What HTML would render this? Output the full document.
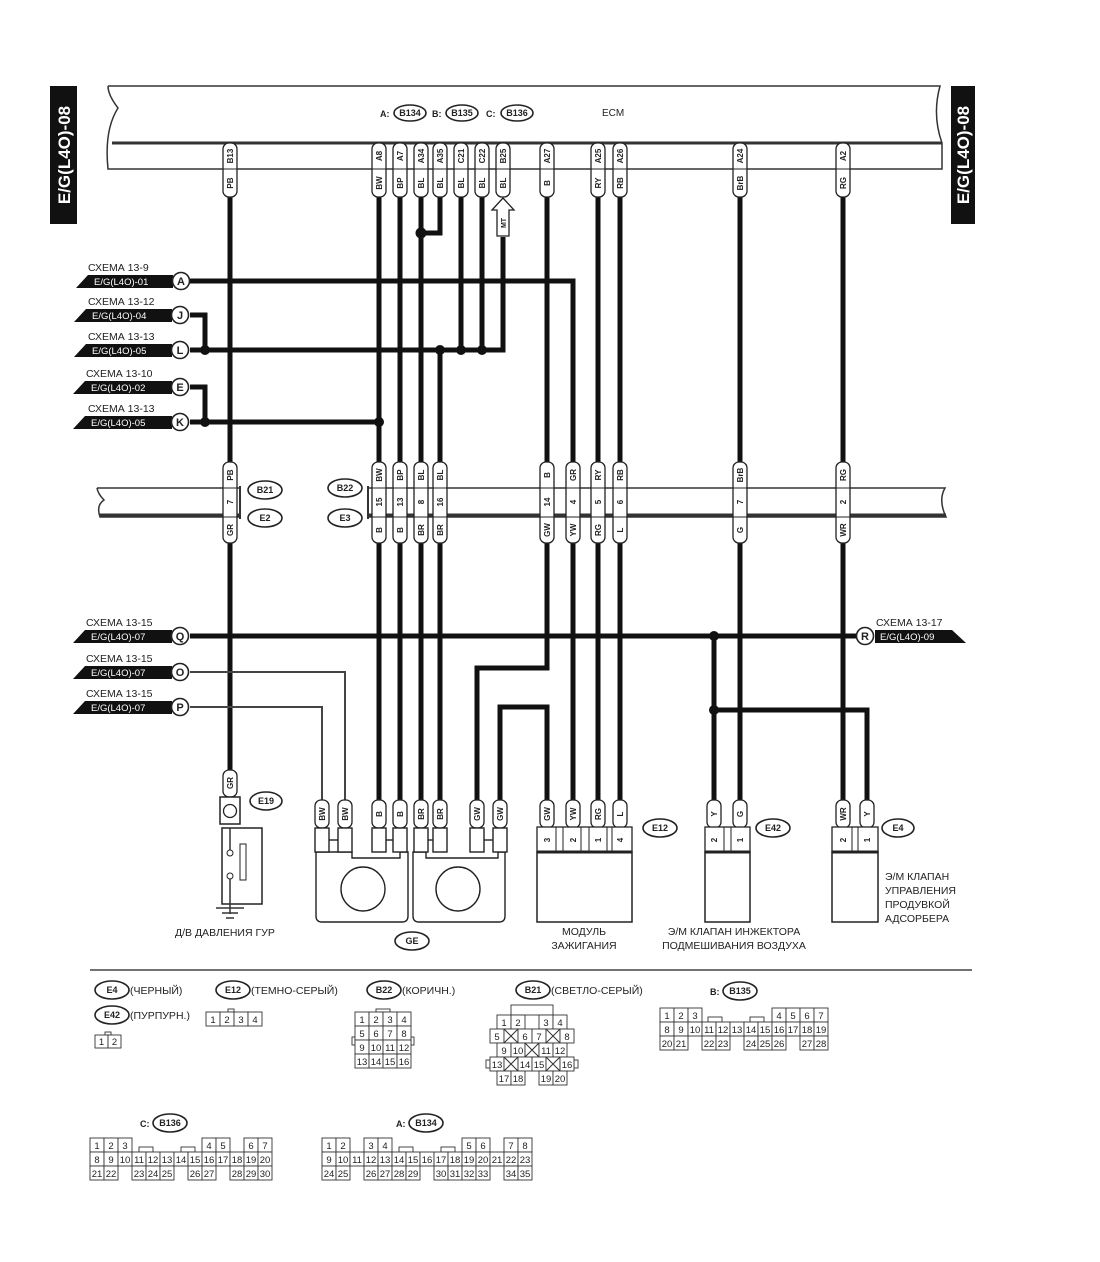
<!DOCTYPE html>
<html><head><meta charset="utf-8"><style>
html,body{margin:0;padding:0;background:#fff}
svg{display:block}
text{font-family:"Liberation Sans","Noto Sans CJK SC",sans-serif;fill:#222}
.w{stroke:#111;stroke-width:5;fill:none}
.t{stroke:#444;stroke-width:2;fill:none}
.o{stroke:#333;stroke-width:1.5;fill:none}
.c rect{fill:#fff;stroke:#333;stroke-width:0.9}
.c text{font-size:9.5px;text-anchor:middle}
.p{fill:#fff;stroke:#222;stroke-width:1.3}
.pt{font-size:8px;font-weight:bold;text-anchor:middle}
.lbl{font-size:10.5px}
.tag{fill:#111}
.tagt{fill:#fff;font-size:9.5px}
.el{fill:#fff;stroke:#222;stroke-width:1.6}
.elt{font-size:9px;font-weight:bold;text-anchor:middle}
</style></head><body>
<svg width="1100" height="1262" viewBox="0 0 1100 1262" xmlns="http://www.w3.org/2000/svg">
<rect width="1100" height="1262" fill="#fff"/>

<!-- side tags -->
<rect x="50" y="86" width="27" height="138" fill="#111"/>
<text transform="translate(70,155) rotate(-90)" style="fill:#fff;font-size:17px;font-weight:bold;text-anchor:middle">E/G(L4O)-08</text>
<rect x="951" y="86" width="24" height="138" fill="#111"/>
<text transform="translate(969,155) rotate(-90)" style="fill:#fff;font-size:17px;font-weight:bold;text-anchor:middle">E/G(L4O)-08</text>

<!-- ECM box -->
<path d="M108,86 L940,86 Q932,115 942,143 L942,169 L108,169 Q104,130 118,108 Q108,95 108,86" class="o" fill="#fff"/>
<line x1="112" y1="143" x2="942" y2="143" stroke="#333" stroke-width="3"/>
<text x="380" y="117" style="font-size:9px;font-weight:bold">A:</text>
<ellipse cx="410" cy="113" rx="16" ry="8" class="el"/><text x="410" y="116" class="elt">B134</text>
<text x="432" y="117" style="font-size:9px;font-weight:bold">B:</text>
<ellipse cx="462" cy="113" rx="16" ry="8" class="el"/><text x="462" y="116" class="elt">B135</text>
<text x="486" y="117" style="font-size:9px;font-weight:bold">C:</text>
<ellipse cx="517" cy="113" rx="16" ry="8" class="el"/><text x="517" y="116" class="elt">B136</text>
<text x="602" y="116" style="font-size:10px">ECM</text>

<!-- wires (thick) -->
<g class="w">
<path d="M230,197V462M230,543V770"/>
<path d="M379,197V462M379,543V800"/>
<path d="M400,197V462M400,543V800"/>
<path d="M421,197V462M421,543V800"/>
<path d="M440,197V233H421M440,350V462M440,543V800"/>
<path d="M461,197V350M482,197V350M503,237V350H482"/>
<path d="M547,197V462M547,543V668H477V800M500,800V707H547V800"/>
<path d="M190,281H573V462M573,543V800"/>
<path d="M598,197V462M598,543V800M620,197V462M620,543V800"/>
<path d="M740,197V462M740,543V800"/>
<path d="M843,197V462M843,543V800"/>
<path d="M190,315H205V350M190,350H503"/>
<path d="M190,387H205V422M190,422H379"/>
<path d="M190,636H856"/>
<path d="M714,636V800M714,710H867V800"/>
</g>
<g class="t"><path d="M190,672H345V800M190,707H322V800"/></g>
<g fill="#111">
<circle cx="205" cy="350" r="5"/><circle cx="440" cy="350" r="5"/><circle cx="461" cy="350" r="5"/><circle cx="482" cy="350" r="5"/>
<circle cx="421" cy="233" r="5.5"/><circle cx="205" cy="422" r="5"/><circle cx="379" cy="422" r="5"/>
<circle cx="714" cy="636" r="5"/><circle cx="714" cy="710" r="5"/>
</g>
<!-- MT arrow -->
<path d="M503,198 L514,210 L509,210 L509,236 L497,236 L497,210 L492,210 Z" fill="#fff" stroke="#222" stroke-width="1.3"/>
<text transform="translate(506,223) rotate(-90)" style="font-size:7px;font-weight:bold;text-anchor:middle">MT</text>

<!-- ECM pins -->
<g>
<g transform="translate(230,143)"><rect x="-7" y="0" width="14" height="54" rx="6" class="p"/><line x1="-7" y1="26" x2="7" y2="26" stroke="#222"/><text transform="rotate(-90)" x="-13" y="3" class="pt">B13</text><text transform="rotate(-90)" x="-40" y="3" class="pt">PB</text></g>
<g transform="translate(379,143)"><rect x="-7" y="0" width="14" height="54" rx="6" class="p"/><line x1="-7" y1="26" x2="7" y2="26" stroke="#222"/><text transform="rotate(-90)" x="-13" y="3" class="pt">A8</text><text transform="rotate(-90)" x="-40" y="3" class="pt">BW</text></g>
<g transform="translate(400,143)"><rect x="-7" y="0" width="14" height="54" rx="6" class="p"/><line x1="-7" y1="26" x2="7" y2="26" stroke="#222"/><text transform="rotate(-90)" x="-13" y="3" class="pt">A7</text><text transform="rotate(-90)" x="-40" y="3" class="pt">BP</text></g>
<g transform="translate(421,143)"><rect x="-7" y="0" width="14" height="54" rx="6" class="p"/><line x1="-7" y1="26" x2="7" y2="26" stroke="#222"/><text transform="rotate(-90)" x="-13" y="3" class="pt">A34</text><text transform="rotate(-90)" x="-40" y="3" class="pt">BL</text></g>
<g transform="translate(440,143)"><rect x="-7" y="0" width="14" height="54" rx="6" class="p"/><line x1="-7" y1="26" x2="7" y2="26" stroke="#222"/><text transform="rotate(-90)" x="-13" y="3" class="pt">A35</text><text transform="rotate(-90)" x="-40" y="3" class="pt">BL</text></g>
<g transform="translate(461,143)"><rect x="-7" y="0" width="14" height="54" rx="6" class="p"/><line x1="-7" y1="26" x2="7" y2="26" stroke="#222"/><text transform="rotate(-90)" x="-13" y="3" class="pt">C21</text><text transform="rotate(-90)" x="-40" y="3" class="pt">BL</text></g>
<g transform="translate(482,143)"><rect x="-7" y="0" width="14" height="54" rx="6" class="p"/><line x1="-7" y1="26" x2="7" y2="26" stroke="#222"/><text transform="rotate(-90)" x="-13" y="3" class="pt">C22</text><text transform="rotate(-90)" x="-40" y="3" class="pt">BL</text></g>
<g transform="translate(503,143)"><rect x="-7" y="0" width="14" height="54" rx="6" class="p"/><line x1="-7" y1="26" x2="7" y2="26" stroke="#222"/><text transform="rotate(-90)" x="-13" y="3" class="pt">B25</text><text transform="rotate(-90)" x="-40" y="3" class="pt">BL</text></g>
<g transform="translate(547,143)"><rect x="-7" y="0" width="14" height="54" rx="6" class="p"/><line x1="-7" y1="26" x2="7" y2="26" stroke="#222"/><text transform="rotate(-90)" x="-13" y="3" class="pt">A27</text><text transform="rotate(-90)" x="-40" y="3" class="pt">B</text></g>
<g transform="translate(598,143)"><rect x="-7" y="0" width="14" height="54" rx="6" class="p"/><line x1="-7" y1="26" x2="7" y2="26" stroke="#222"/><text transform="rotate(-90)" x="-13" y="3" class="pt">A25</text><text transform="rotate(-90)" x="-40" y="3" class="pt">RY</text></g>
<g transform="translate(620,143)"><rect x="-7" y="0" width="14" height="54" rx="6" class="p"/><line x1="-7" y1="26" x2="7" y2="26" stroke="#222"/><text transform="rotate(-90)" x="-13" y="3" class="pt">A26</text><text transform="rotate(-90)" x="-40" y="3" class="pt">RB</text></g>
<g transform="translate(740,143)"><rect x="-7" y="0" width="14" height="54" rx="6" class="p"/><line x1="-7" y1="26" x2="7" y2="26" stroke="#222"/><text transform="rotate(-90)" x="-13" y="3" class="pt">A24</text><text transform="rotate(-90)" x="-40" y="3" class="pt">BrB</text></g>
<g transform="translate(843,143)"><rect x="-7" y="0" width="14" height="54" rx="6" class="p"/><line x1="-7" y1="26" x2="7" y2="26" stroke="#222"/><text transform="rotate(-90)" x="-13" y="3" class="pt">A2</text><text transform="rotate(-90)" x="-40" y="3" class="pt">RG</text></g>
</g>

<!-- left tags -->
<g>
<text x="88" y="271" class="lbl">СХЕМА 13-9</text>
<polygon points="76,288 88,275 173,275 173,288" class="tag"/><text x="94" y="285" class="tagt">E/G(L4O)-01</text>
<circle cx="181" cy="281" r="8.5" class="el"/><text x="181" y="285" style="font-size:11px;font-weight:bold;text-anchor:middle">A</text>

<text x="88" y="305" class="lbl">СХЕМА 13-12</text>
<polygon points="74,322 86,309 172,309 172,322" class="tag"/><text x="92" y="319" class="tagt">E/G(L4O)-04</text>
<circle cx="180" cy="315" r="8.5" class="el"/><text x="180" y="319" style="font-size:11px;font-weight:bold;text-anchor:middle">J</text>

<text x="88" y="340" class="lbl">СХЕМА 13-13</text>
<polygon points="74,357 86,344 172,344 172,357" class="tag"/><text x="92" y="354" class="tagt">E/G(L4O)-05</text>
<circle cx="180" cy="350" r="8.5" class="el"/><text x="180" y="354" style="font-size:11px;font-weight:bold;text-anchor:middle">L</text>

<text x="86" y="377" class="lbl">СХЕМА 13-10</text>
<polygon points="73,394 85,381 172,381 172,394" class="tag"/><text x="91" y="391" class="tagt">E/G(L4O)-02</text>
<circle cx="180" cy="387" r="8.5" class="el"/><text x="180" y="391" style="font-size:11px;font-weight:bold;text-anchor:middle">E</text>

<text x="88" y="412" class="lbl">СХЕМА 13-13</text>
<polygon points="73,429 85,416 172,416 172,429" class="tag"/><text x="91" y="426" class="tagt">E/G(L4O)-05</text>
<circle cx="180" cy="422" r="8.5" class="el"/><text x="180" y="426" style="font-size:11px;font-weight:bold;text-anchor:middle">K</text>

<text x="86" y="626" class="lbl">СХЕМА 13-15</text>
<polygon points="73,643 85,630 172,630 172,643" class="tag"/><text x="91" y="640" class="tagt">E/G(L4O)-07</text>
<circle cx="180" cy="636" r="8.5" class="el"/><text x="180" y="640" style="font-size:11px;font-weight:bold;text-anchor:middle">Q</text>

<text x="86" y="662" class="lbl">СХЕМА 13-15</text>
<polygon points="73,679 85,666 172,666 172,679" class="tag"/><text x="91" y="676" class="tagt">E/G(L4O)-07</text>
<circle cx="180" cy="672" r="8.5" class="el"/><text x="180" y="676" style="font-size:11px;font-weight:bold;text-anchor:middle">O</text>

<text x="86" y="697" class="lbl">СХЕМА 13-15</text>
<polygon points="73,714 85,701 172,701 172,714" class="tag"/><text x="91" y="711" class="tagt">E/G(L4O)-07</text>
<circle cx="180" cy="707" r="8.5" class="el"/><text x="180" y="711" style="font-size:11px;font-weight:bold;text-anchor:middle">P</text>

<text x="876" y="626" class="lbl">СХЕМА 13-17</text>
<circle cx="865" cy="636" r="8.5" class="el"/><text x="865" y="640" style="font-size:11px;font-weight:bold;text-anchor:middle">R</text>
<polygon points="875,630 952,630 966,643 875,643" class="tag"/><text x="880" y="640" class="tagt">E/G(L4O)-09</text>
</g>

<!-- B21/B22 band -->
<path d="M97,488 L240,488 M240,517 L100,517 Q96,505 104,500 Q98,494 97,488" class="o"/>
<line x1="100" y1="515" x2="240" y2="515" stroke="#333" stroke-width="3"/>
<line x1="240" y1="486" x2="240" y2="519" stroke="#333" stroke-width="2"/>
<path d="M368,488 L945,488 Q938,500 946,517 L368,517 Z" class="o" fill="none"/>
<line x1="368" y1="515" x2="946" y2="515" stroke="#333" stroke-width="3"/>
<line x1="368" y1="486" x2="368" y2="519" stroke="#333" stroke-width="2"/>
<ellipse cx="265" cy="490" rx="17" ry="9" class="el"/><text x="265" y="493" class="elt">B21</text>
<ellipse cx="265" cy="518" rx="17" ry="9" class="el"/><text x="265" y="521" class="elt">E2</text>
<ellipse cx="345" cy="488" rx="17" ry="9" class="el"/><text x="345" y="491" class="elt">B22</text>
<ellipse cx="345" cy="518" rx="17" ry="9" class="el"/><text x="345" y="521" class="elt">E3</text>

<g>
<g transform="translate(230,462)"><rect x="-7" y="0" width="14" height="81" rx="6" class="p"/><line x1="-7" y1="26" x2="7" y2="26" stroke="#222"/><line x1="-7" y1="55" x2="7" y2="55" stroke="#222"/><text transform="rotate(-90)" x="-13" y="3" class="pt">PB</text><text transform="rotate(-90)" x="-40" y="3" class="pt">7</text><text transform="rotate(-90)" x="-68" y="3" class="pt">GR</text></g>
<g transform="translate(379,462)"><rect x="-7" y="0" width="14" height="81" rx="6" class="p"/><line x1="-7" y1="26" x2="7" y2="26" stroke="#222"/><line x1="-7" y1="55" x2="7" y2="55" stroke="#222"/><text transform="rotate(-90)" x="-13" y="3" class="pt">BW</text><text transform="rotate(-90)" x="-40" y="3" class="pt">15</text><text transform="rotate(-90)" x="-68" y="3" class="pt">B</text></g>
<g transform="translate(400,462)"><rect x="-7" y="0" width="14" height="81" rx="6" class="p"/><line x1="-7" y1="26" x2="7" y2="26" stroke="#222"/><line x1="-7" y1="55" x2="7" y2="55" stroke="#222"/><text transform="rotate(-90)" x="-13" y="3" class="pt">BP</text><text transform="rotate(-90)" x="-40" y="3" class="pt">13</text><text transform="rotate(-90)" x="-68" y="3" class="pt">B</text></g>
<g transform="translate(421,462)"><rect x="-7" y="0" width="14" height="81" rx="6" class="p"/><line x1="-7" y1="26" x2="7" y2="26" stroke="#222"/><line x1="-7" y1="55" x2="7" y2="55" stroke="#222"/><text transform="rotate(-90)" x="-13" y="3" class="pt">BL</text><text transform="rotate(-90)" x="-40" y="3" class="pt">8</text><text transform="rotate(-90)" x="-68" y="3" class="pt">BR</text></g>
<g transform="translate(440,462)"><rect x="-7" y="0" width="14" height="81" rx="6" class="p"/><line x1="-7" y1="26" x2="7" y2="26" stroke="#222"/><line x1="-7" y1="55" x2="7" y2="55" stroke="#222"/><text transform="rotate(-90)" x="-13" y="3" class="pt">BL</text><text transform="rotate(-90)" x="-40" y="3" class="pt">16</text><text transform="rotate(-90)" x="-68" y="3" class="pt">BR</text></g>
<g transform="translate(547,462)"><rect x="-7" y="0" width="14" height="81" rx="6" class="p"/><line x1="-7" y1="26" x2="7" y2="26" stroke="#222"/><line x1="-7" y1="55" x2="7" y2="55" stroke="#222"/><text transform="rotate(-90)" x="-13" y="3" class="pt">B</text><text transform="rotate(-90)" x="-40" y="3" class="pt">14</text><text transform="rotate(-90)" x="-68" y="3" class="pt">GW</text></g>
<g transform="translate(573,462)"><rect x="-7" y="0" width="14" height="81" rx="6" class="p"/><line x1="-7" y1="26" x2="7" y2="26" stroke="#222"/><line x1="-7" y1="55" x2="7" y2="55" stroke="#222"/><text transform="rotate(-90)" x="-13" y="3" class="pt">GR</text><text transform="rotate(-90)" x="-40" y="3" class="pt">4</text><text transform="rotate(-90)" x="-68" y="3" class="pt">YW</text></g>
<g transform="translate(598,462)"><rect x="-7" y="0" width="14" height="81" rx="6" class="p"/><line x1="-7" y1="26" x2="7" y2="26" stroke="#222"/><line x1="-7" y1="55" x2="7" y2="55" stroke="#222"/><text transform="rotate(-90)" x="-13" y="3" class="pt">RY</text><text transform="rotate(-90)" x="-40" y="3" class="pt">5</text><text transform="rotate(-90)" x="-68" y="3" class="pt">RG</text></g>
<g transform="translate(620,462)"><rect x="-7" y="0" width="14" height="81" rx="6" class="p"/><line x1="-7" y1="26" x2="7" y2="26" stroke="#222"/><line x1="-7" y1="55" x2="7" y2="55" stroke="#222"/><text transform="rotate(-90)" x="-13" y="3" class="pt">RB</text><text transform="rotate(-90)" x="-40" y="3" class="pt">6</text><text transform="rotate(-90)" x="-68" y="3" class="pt">L</text></g>
<g transform="translate(740,462)"><rect x="-7" y="0" width="14" height="81" rx="6" class="p"/><line x1="-7" y1="26" x2="7" y2="26" stroke="#222"/><line x1="-7" y1="55" x2="7" y2="55" stroke="#222"/><text transform="rotate(-90)" x="-13" y="3" class="pt">BrB</text><text transform="rotate(-90)" x="-40" y="3" class="pt">7</text><text transform="rotate(-90)" x="-68" y="3" class="pt">G</text></g>
<g transform="translate(843,462)"><rect x="-7" y="0" width="14" height="81" rx="6" class="p"/><line x1="-7" y1="26" x2="7" y2="26" stroke="#222"/><line x1="-7" y1="55" x2="7" y2="55" stroke="#222"/><text transform="rotate(-90)" x="-13" y="3" class="pt">RG</text><text transform="rotate(-90)" x="-40" y="3" class="pt">2</text><text transform="rotate(-90)" x="-68" y="3" class="pt">WR</text></g>
</g>

<!-- bottom pills -->
<g>
<g transform="translate(230,770)"><rect x="-7" y="0" width="14" height="27" rx="6" class="p"/><text transform="rotate(-90)" x="-13" y="3" class="pt">GR</text></g>
<g transform="translate(322,800)"><rect x="-7" y="0" width="14" height="28" rx="6" class="p"/><text transform="rotate(-90)" x="-14" y="3" class="pt">BW</text></g>
<g transform="translate(345,800)"><rect x="-7" y="0" width="14" height="28" rx="6" class="p"/><text transform="rotate(-90)" x="-14" y="3" class="pt">BW</text></g>
<g transform="translate(379,800)"><rect x="-7" y="0" width="14" height="28" rx="6" class="p"/><text transform="rotate(-90)" x="-14" y="3" class="pt">B</text></g>
<g transform="translate(400,800)"><rect x="-7" y="0" width="14" height="28" rx="6" class="p"/><text transform="rotate(-90)" x="-14" y="3" class="pt">B</text></g>
<g transform="translate(421,800)"><rect x="-7" y="0" width="14" height="28" rx="6" class="p"/><text transform="rotate(-90)" x="-14" y="3" class="pt">BR</text></g>
<g transform="translate(440,800)"><rect x="-7" y="0" width="14" height="28" rx="6" class="p"/><text transform="rotate(-90)" x="-14" y="3" class="pt">BR</text></g>
<g transform="translate(477,800)"><rect x="-7" y="0" width="14" height="28" rx="6" class="p"/><text transform="rotate(-90)" x="-14" y="3" class="pt">GW</text></g>
<g transform="translate(500,800)"><rect x="-7" y="0" width="14" height="28" rx="6" class="p"/><text transform="rotate(-90)" x="-14" y="3" class="pt">GW</text></g>
<g transform="translate(547,800)"><rect x="-7" y="0" width="14" height="28" rx="6" class="p"/><text transform="rotate(-90)" x="-14" y="3" class="pt">GW</text></g>
<g transform="translate(573,800)"><rect x="-7" y="0" width="14" height="28" rx="6" class="p"/><text transform="rotate(-90)" x="-14" y="3" class="pt">YW</text></g>
<g transform="translate(598,800)"><rect x="-7" y="0" width="14" height="28" rx="6" class="p"/><text transform="rotate(-90)" x="-14" y="3" class="pt">RG</text></g>
<g transform="translate(620,800)"><rect x="-7" y="0" width="14" height="28" rx="6" class="p"/><text transform="rotate(-90)" x="-14" y="3" class="pt">L</text></g>
<g transform="translate(714,800)"><rect x="-7" y="0" width="14" height="28" rx="6" class="p"/><text transform="rotate(-90)" x="-14" y="3" class="pt">Y</text></g>
<g transform="translate(740,800)"><rect x="-7" y="0" width="14" height="28" rx="6" class="p"/><text transform="rotate(-90)" x="-14" y="3" class="pt">G</text></g>
<g transform="translate(843,800)"><rect x="-7" y="0" width="14" height="28" rx="6" class="p"/><text transform="rotate(-90)" x="-14" y="3" class="pt">WR</text></g>
<g transform="translate(867,800)"><rect x="-7" y="0" width="14" height="28" rx="6" class="p"/><text transform="rotate(-90)" x="-14" y="3" class="pt">Y</text></g>
</g>

<!-- E19 -->
<rect x="220" y="797" width="20" height="27" fill="#fff" stroke="#222" stroke-width="1.5"/>
<circle cx="230" cy="811" r="6.5" fill="#fff" stroke="#222" stroke-width="1.3"/>
<ellipse cx="266" cy="801" rx="16" ry="9" class="el"/><text x="266" y="804" class="elt">E19</text>
<rect x="222" y="828" width="40" height="76" fill="#fff" stroke="#222" stroke-width="1.5"/>
<path d="M230,828V850M230,878V914" class="o"/>
<circle cx="230" cy="853" r="3" fill="#fff" stroke="#222"/><circle cx="230" cy="876" r="3" fill="#fff" stroke="#222"/>
<rect x="240" y="844" width="6" height="36" fill="#fff" stroke="#222"/>
<path d="M216,908H244M222,913H238M226,918H234" class="o"/>
<text x="175" y="936" class="lbl">Д/В ДАВЛЕНИЯ ГУР</text>

<!-- GE -->
<g fill="#fff" stroke="#222" stroke-width="1.4">
<path d="M316,852 H352 V858 H400 V852 H408 V916 Q408,922 402,922 H322 Q316,922 316,916 Z"/>
<path d="M413,852 H426 V858 H498 V852 H505 V916 Q505,922 499,922 H419 Q413,922 413,916 Z"/>
<rect x="315" y="828" width="14" height="24"/><rect x="338" y="828" width="14" height="24"/><line x1="329" y1="840" x2="338" y2="840"/>
<rect x="372" y="828" width="14" height="24"/><rect x="393" y="828" width="14" height="24"/><line x1="386" y1="840" x2="393" y2="840"/>
<rect x="414" y="828" width="14" height="24"/><rect x="433" y="828" width="14" height="24"/><line x1="428" y1="840" x2="433" y2="840"/>
<rect x="470" y="828" width="14" height="24"/><rect x="493" y="828" width="14" height="24"/><line x1="484" y1="840" x2="493" y2="840"/>
<circle cx="363" cy="889" r="22"/><circle cx="458" cy="889" r="22"/>
</g>
<ellipse cx="412" cy="941" rx="17" ry="9" class="el"/><text x="412" y="944" class="elt">GE</text>

<!-- E12 -->
<rect x="537" y="852" width="95" height="70" fill="#fff" stroke="#222" stroke-width="1.5"/>
<rect x="537" y="827" width="95" height="25" fill="#fff" stroke="#222" stroke-width="1.3"/>
<line x1="537" y1="852" x2="632" y2="852" stroke="#222" stroke-width="3"/>
<g stroke="#222"><line x1="556" y1="827" x2="556" y2="852"/><line x1="563" y1="827" x2="563" y2="852"/><line x1="581" y1="827" x2="581" y2="852"/><line x1="589" y1="827" x2="589" y2="852"/><line x1="607" y1="827" x2="607" y2="852"/><line x1="612" y1="827" x2="612" y2="852"/></g>
<text transform="translate(550,840) rotate(-90)" class="pt">3</text>
<text transform="translate(576,840) rotate(-90)" class="pt">2</text>
<text transform="translate(601,840) rotate(-90)" class="pt">1</text>
<text transform="translate(623,840) rotate(-90)" class="pt">4</text>
<ellipse cx="660" cy="828" rx="17" ry="9" class="el"/><text x="660" y="831" class="elt">E12</text>
<text x="584" y="935" class="lbl" text-anchor="middle">МОДУЛЬ</text>
<text x="584" y="949" class="lbl" text-anchor="middle">ЗАЖИГАНИЯ</text>

<!-- E42 -->
<rect x="705" y="852" width="45" height="70" fill="#fff" stroke="#222" stroke-width="1.5"/>
<rect x="705" y="827" width="45" height="25" fill="#fff" stroke="#222" stroke-width="1.3"/>
<line x1="705" y1="852" x2="750" y2="852" stroke="#222" stroke-width="3"/>
<line x1="724" y1="827" x2="724" y2="852" stroke="#222"/><line x1="731" y1="827" x2="731" y2="852" stroke="#222"/>
<text transform="translate(717,840) rotate(-90)" class="pt">2</text>
<text transform="translate(743,840) rotate(-90)" class="pt">1</text>
<ellipse cx="773" cy="828" rx="17" ry="9" class="el"/><text x="773" y="831" class="elt">E42</text>
<text x="734" y="935" class="lbl" text-anchor="middle">Э/М КЛАПАН ИНЖЕКТОРА</text>
<text x="734" y="949" class="lbl" text-anchor="middle">ПОДМЕШИВАНИЯ ВОЗДУХА</text>

<!-- E4 -->
<rect x="832" y="852" width="46" height="70" fill="#fff" stroke="#222" stroke-width="1.5"/>
<rect x="832" y="827" width="46" height="25" fill="#fff" stroke="#222" stroke-width="1.3"/>
<line x1="832" y1="852" x2="878" y2="852" stroke="#222" stroke-width="3"/>
<line x1="852" y1="827" x2="852" y2="852" stroke="#222"/><line x1="858" y1="827" x2="858" y2="852" stroke="#222"/>
<text transform="translate(846,840) rotate(-90)" class="pt">2</text>
<text transform="translate(870,840) rotate(-90)" class="pt">1</text>
<ellipse cx="898" cy="828" rx="16" ry="9" class="el"/><text x="898" y="831" class="elt">E4</text>
<text x="885" y="880" class="lbl">Э/М КЛАПАН</text>
<text x="885" y="894" class="lbl">УПРАВЛЕНИЯ</text>
<text x="885" y="908" class="lbl">ПРОДУВКОЙ</text>
<text x="885" y="922" class="lbl">АДСОРБЕРА</text>

<line x1="90" y1="970" x2="972" y2="970" stroke="#444" stroke-width="1.5"/>

<!-- legend -->
<ellipse cx="112" cy="990" rx="17" ry="9" class="el"/><text x="112" y="993" class="elt">E4</text>
<text x="130" y="994" class="lbl">(ЧЕРНЫЙ)</text>
<ellipse cx="233" cy="990" rx="17" ry="9" class="el"/><text x="233" y="993" class="elt">E12</text>
<text x="251" y="994" class="lbl">(ТЕМНО-СЕРЫЙ)</text>
<ellipse cx="384" cy="990" rx="17" ry="9" class="el"/><text x="384" y="993" class="elt">B22</text>
<text x="402" y="994" class="lbl">(КОРИЧН.)</text>
<ellipse cx="533" cy="990" rx="17" ry="9" class="el"/><text x="533" y="993" class="elt">B21</text>
<text x="551" y="994" class="lbl">(СВЕТЛО-СЕРЫЙ)</text>
<text x="710" y="995" style="font-size:9px;font-weight:bold">B:</text>
<ellipse cx="740" cy="991" rx="17" ry="9" class="el"/><text x="740" y="994" class="elt">B135</text>
<ellipse cx="112" cy="1015" rx="17" ry="9" class="el"/><text x="112" y="1018" class="elt">E42</text>
<text x="130" y="1019" class="lbl">(ПУРПУРН.)</text>

<g class="c">
<!-- E12 grid -->
<rect x="228" y="1009" width="6" height="3"/>
<rect x="206" y="1012" width="14" height="14"/><text x="213" y="1023">1</text>
<rect x="220" y="1012" width="14" height="14"/><text x="227" y="1023">2</text>
<rect x="234" y="1012" width="14" height="14"/><text x="241" y="1023">3</text>
<rect x="248" y="1012" width="14" height="14"/><text x="255" y="1023">4</text>
<!-- E42 grid -->
<rect x="105" y="1032" width="6" height="3"/>
<rect x="95" y="1035" width="13" height="13"/><text x="101.5" y="1045">1</text>
<rect x="108" y="1035" width="13" height="13"/><text x="114.5" y="1045">2</text>
<!-- B22 -->
<rect x="376" y="1009" width="14" height="3"/>
<rect x="352" y="1037" width="3" height="8"/><rect x="411" y="1037" width="3" height="8"/>
<rect x="355" y="1012" width="14" height="14"/><text x="362" y="1023">1</text>
<rect x="369" y="1012" width="14" height="14"/><text x="376" y="1023">2</text>
<rect x="383" y="1012" width="14" height="14"/><text x="390" y="1023">3</text>
<rect x="397" y="1012" width="14" height="14"/><text x="404" y="1023">4</text>
<rect x="355" y="1026" width="14" height="14"/><text x="362" y="1037">5</text>
<rect x="369" y="1026" width="14" height="14"/><text x="376" y="1037">6</text>
<rect x="383" y="1026" width="14" height="14"/><text x="390" y="1037">7</text>
<rect x="397" y="1026" width="14" height="14"/><text x="404" y="1037">8</text>
<rect x="355" y="1040" width="14" height="14"/><text x="362" y="1051">9</text>
<rect x="369" y="1040" width="14" height="14"/><text x="376" y="1051">10</text>
<rect x="383" y="1040" width="14" height="14"/><text x="390" y="1051">11</text>
<rect x="397" y="1040" width="14" height="14"/><text x="404" y="1051">12</text>
<rect x="355" y="1054" width="14" height="14"/><text x="362" y="1065">13</text>
<rect x="369" y="1054" width="14" height="14"/><text x="376" y="1065">14</text>
<rect x="383" y="1054" width="14" height="14"/><text x="390" y="1065">15</text>
<rect x="397" y="1054" width="14" height="14"/><text x="404" y="1065">16</text>
<!-- B21 -->
<rect x="511" y="1005" width="42" height="10"/>
<rect x="497" y="1015" width="14" height="14"/><text x="504" y="1026">1</text>
<rect x="511" y="1015" width="14" height="14"/><text x="518" y="1026">2</text>
<rect x="539" y="1015" width="14" height="14"/><text x="546" y="1026">3</text>
<rect x="553" y="1015" width="14" height="14"/><text x="560" y="1026">4</text>
<rect x="490" y="1029" width="14" height="14"/><text x="497" y="1040">5</text>
<rect x="504" y="1029" width="14" height="14"/><path d="M504,1029l14,14M518,1029l-14,14" stroke="#333"/>
<rect x="518" y="1029" width="14" height="14"/><text x="525" y="1040">6</text>
<rect x="532" y="1029" width="14" height="14"/><text x="539" y="1040">7</text>
<rect x="546" y="1029" width="14" height="14"/><path d="M546,1029l14,14M560,1029l-14,14" stroke="#333"/>
<rect x="560" y="1029" width="14" height="14"/><text x="567" y="1040">8</text>
<rect x="497" y="1043" width="14" height="14"/><text x="504" y="1054">9</text>
<rect x="511" y="1043" width="14" height="14"/><text x="518" y="1054">10</text>
<rect x="525" y="1043" width="14" height="14"/><path d="M525,1043l14,14M539,1043l-14,14" stroke="#333"/>
<rect x="539" y="1043" width="14" height="14"/><text x="546" y="1054">11</text>
<rect x="553" y="1043" width="14" height="14"/><text x="560" y="1054">12</text>
<rect x="486" y="1060" width="4" height="8"/><rect x="574" y="1060" width="4" height="8"/>
<rect x="490" y="1057" width="14" height="14"/><text x="497" y="1068">13</text>
<rect x="504" y="1057" width="14" height="14"/><path d="M504,1057l14,14M518,1057l-14,14" stroke="#333"/>
<rect x="518" y="1057" width="14" height="14"/><text x="525" y="1068">14</text>
<rect x="532" y="1057" width="14" height="14"/><text x="539" y="1068">15</text>
<rect x="546" y="1057" width="14" height="14"/><path d="M546,1057l14,14M560,1057l-14,14" stroke="#333"/>
<rect x="560" y="1057" width="14" height="14"/><text x="567" y="1068">16</text>
<rect x="497" y="1071" width="14" height="14"/><text x="504" y="1082">17</text>
<rect x="511" y="1071" width="14" height="14"/><text x="518" y="1082">18</text>
<rect x="539" y="1071" width="14" height="14"/><text x="546" y="1082">19</text>
<rect x="553" y="1071" width="14" height="14"/><text x="560" y="1082">20</text>
<!-- B135 -->
<rect x="708" y="1017" width="14" height="5"/><rect x="750" y="1017" width="14" height="5"/>
<rect x="660" y="1008" width="14" height="14"/><text x="667" y="1019">1</text>
<rect x="674" y="1008" width="14" height="14"/><text x="681" y="1019">2</text>
<rect x="688" y="1008" width="14" height="14"/><text x="695" y="1019">3</text>
<rect x="772" y="1008" width="14" height="14"/><text x="779" y="1019">4</text>
<rect x="786" y="1008" width="14" height="14"/><text x="793" y="1019">5</text>
<rect x="800" y="1008" width="14" height="14"/><text x="807" y="1019">6</text>
<rect x="814" y="1008" width="14" height="14"/><text x="821" y="1019">7</text>
<rect x="660" y="1022" width="14" height="14"/><text x="667" y="1033">8</text>
<rect x="674" y="1022" width="14" height="14"/><text x="681" y="1033">9</text>
<rect x="688" y="1022" width="14" height="14"/><text x="695" y="1033">10</text>
<rect x="702" y="1022" width="14" height="14"/><text x="709" y="1033">11</text>
<rect x="716" y="1022" width="14" height="14"/><text x="723" y="1033">12</text>
<rect x="730" y="1022" width="14" height="14"/><text x="737" y="1033">13</text>
<rect x="744" y="1022" width="14" height="14"/><text x="751" y="1033">14</text>
<rect x="758" y="1022" width="14" height="14"/><text x="765" y="1033">15</text>
<rect x="772" y="1022" width="14" height="14"/><text x="779" y="1033">16</text>
<rect x="786" y="1022" width="14" height="14"/><text x="793" y="1033">17</text>
<rect x="800" y="1022" width="14" height="14"/><text x="807" y="1033">18</text>
<rect x="814" y="1022" width="14" height="14"/><text x="821" y="1033">19</text>
<rect x="660" y="1036" width="14" height="14"/><text x="667" y="1047">20</text>
<rect x="674" y="1036" width="14" height="14"/><text x="681" y="1047">21</text>
<rect x="702" y="1036" width="14" height="14"/><text x="709" y="1047">22</text>
<rect x="716" y="1036" width="14" height="14"/><text x="723" y="1047">23</text>
<rect x="744" y="1036" width="14" height="14"/><text x="751" y="1047">24</text>
<rect x="758" y="1036" width="14" height="14"/><text x="765" y="1047">25</text>
<rect x="772" y="1036" width="14" height="14"/><text x="779" y="1047">26</text>
<rect x="800" y="1036" width="14" height="14"/><text x="807" y="1047">27</text>
<rect x="814" y="1036" width="14" height="14"/><text x="821" y="1047">28</text>
</g>

<text x="140" y="1127" style="font-size:9px;font-weight:bold">C:</text>
<ellipse cx="170" cy="1123" rx="17" ry="9" class="el"/><text x="170" y="1126" class="elt">B136</text>
<text x="396" y="1127" style="font-size:9px;font-weight:bold">A:</text>
<ellipse cx="426" cy="1123" rx="17" ry="9" class="el"/><text x="426" y="1126" class="elt">B134</text>

<g class="c">
<!-- B136 -->
<rect x="139" y="1147" width="14" height="5"/><rect x="181" y="1147" width="14" height="5"/>
<rect x="90" y="1138" width="14" height="14"/><text x="97" y="1149">1</text>
<rect x="104" y="1138" width="14" height="14"/><text x="111" y="1149">2</text>
<rect x="118" y="1138" width="14" height="14"/><text x="125" y="1149">3</text>
<rect x="202" y="1138" width="14" height="14"/><text x="209" y="1149">4</text>
<rect x="216" y="1138" width="14" height="14"/><text x="223" y="1149">5</text>
<rect x="244" y="1138" width="14" height="14"/><text x="251" y="1149">6</text>
<rect x="258" y="1138" width="14" height="14"/><text x="265" y="1149">7</text>
<rect x="90" y="1152" width="14" height="14"/><text x="97" y="1163">8</text>
<rect x="104" y="1152" width="14" height="14"/><text x="111" y="1163">9</text>
<rect x="118" y="1152" width="14" height="14"/><text x="125" y="1163">10</text>
<rect x="132" y="1152" width="14" height="14"/><text x="139" y="1163">11</text>
<rect x="146" y="1152" width="14" height="14"/><text x="153" y="1163">12</text>
<rect x="160" y="1152" width="14" height="14"/><text x="167" y="1163">13</text>
<rect x="174" y="1152" width="14" height="14"/><text x="181" y="1163">14</text>
<rect x="188" y="1152" width="14" height="14"/><text x="195" y="1163">15</text>
<rect x="202" y="1152" width="14" height="14"/><text x="209" y="1163">16</text>
<rect x="216" y="1152" width="14" height="14"/><text x="223" y="1163">17</text>
<rect x="230" y="1152" width="14" height="14"/><text x="237" y="1163">18</text>
<rect x="244" y="1152" width="14" height="14"/><text x="251" y="1163">19</text>
<rect x="258" y="1152" width="14" height="14"/><text x="265" y="1163">20</text>
<rect x="90" y="1166" width="14" height="14"/><text x="97" y="1177">21</text>
<rect x="104" y="1166" width="14" height="14"/><text x="111" y="1177">22</text>
<rect x="132" y="1166" width="14" height="14"/><text x="139" y="1177">23</text>
<rect x="146" y="1166" width="14" height="14"/><text x="153" y="1177">24</text>
<rect x="160" y="1166" width="14" height="14"/><text x="167" y="1177">25</text>
<rect x="188" y="1166" width="14" height="14"/><text x="195" y="1177">26</text>
<rect x="202" y="1166" width="14" height="14"/><text x="209" y="1177">27</text>
<rect x="230" y="1166" width="14" height="14"/><text x="237" y="1177">28</text>
<rect x="244" y="1166" width="14" height="14"/><text x="251" y="1177">29</text>
<rect x="258" y="1166" width="14" height="14"/><text x="265" y="1177">30</text>
<!-- B134 -->
<rect x="399" y="1147" width="14" height="5"/><rect x="441" y="1147" width="14" height="5"/>
<rect x="322" y="1138" width="14" height="14"/><text x="329" y="1149">1</text>
<rect x="336" y="1138" width="14" height="14"/><text x="343" y="1149">2</text>
<rect x="364" y="1138" width="14" height="14"/><text x="371" y="1149">3</text>
<rect x="378" y="1138" width="14" height="14"/><text x="385" y="1149">4</text>
<rect x="462" y="1138" width="14" height="14"/><text x="469" y="1149">5</text>
<rect x="476" y="1138" width="14" height="14"/><text x="483" y="1149">6</text>
<rect x="504" y="1138" width="14" height="14"/><text x="511" y="1149">7</text>
<rect x="518" y="1138" width="14" height="14"/><text x="525" y="1149">8</text>
<rect x="322" y="1152" width="14" height="14"/><text x="329" y="1163">9</text>
<rect x="336" y="1152" width="14" height="14"/><text x="343" y="1163">10</text>
<rect x="350" y="1152" width="14" height="14"/><text x="357" y="1163">11</text>
<rect x="364" y="1152" width="14" height="14"/><text x="371" y="1163">12</text>
<rect x="378" y="1152" width="14" height="14"/><text x="385" y="1163">13</text>
<rect x="392" y="1152" width="14" height="14"/><text x="399" y="1163">14</text>
<rect x="406" y="1152" width="14" height="14"/><text x="413" y="1163">15</text>
<rect x="420" y="1152" width="14" height="14"/><text x="427" y="1163">16</text>
<rect x="434" y="1152" width="14" height="14"/><text x="441" y="1163">17</text>
<rect x="448" y="1152" width="14" height="14"/><text x="455" y="1163">18</text>
<rect x="462" y="1152" width="14" height="14"/><text x="469" y="1163">19</text>
<rect x="476" y="1152" width="14" height="14"/><text x="483" y="1163">20</text>
<rect x="490" y="1152" width="14" height="14"/><text x="497" y="1163">21</text>
<rect x="504" y="1152" width="14" height="14"/><text x="511" y="1163">22</text>
<rect x="518" y="1152" width="14" height="14"/><text x="525" y="1163">23</text>
<rect x="322" y="1166" width="14" height="14"/><text x="329" y="1177">24</text>
<rect x="336" y="1166" width="14" height="14"/><text x="343" y="1177">25</text>
<rect x="364" y="1166" width="14" height="14"/><text x="371" y="1177">26</text>
<rect x="378" y="1166" width="14" height="14"/><text x="385" y="1177">27</text>
<rect x="392" y="1166" width="14" height="14"/><text x="399" y="1177">28</text>
<rect x="406" y="1166" width="14" height="14"/><text x="413" y="1177">29</text>
<rect x="434" y="1166" width="14" height="14"/><text x="441" y="1177">30</text>
<rect x="448" y="1166" width="14" height="14"/><text x="455" y="1177">31</text>
<rect x="462" y="1166" width="14" height="14"/><text x="469" y="1177">32</text>
<rect x="476" y="1166" width="14" height="14"/><text x="483" y="1177">33</text>
<rect x="504" y="1166" width="14" height="14"/><text x="511" y="1177">34</text>
<rect x="518" y="1166" width="14" height="14"/><text x="525" y="1177">35</text>
</g>
</svg>
</body></html>
